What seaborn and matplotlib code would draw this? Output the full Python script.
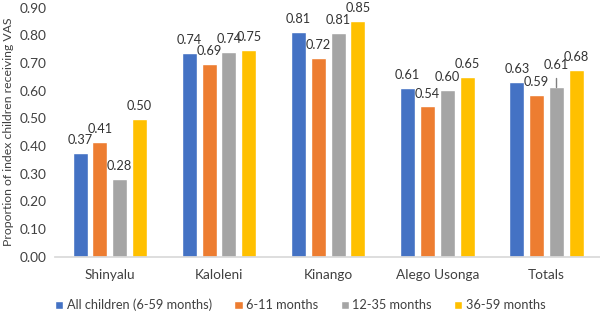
import matplotlib
matplotlib.use("Agg")
import matplotlib.pyplot as plt
import seaborn as sns
import pandas as pd

categories = ["Shinyalu", "Kaloleni", "Kinango", "Alego Usonga", "Totals"]
series = ["All children (6-59 months)", "6-11 months", "12-35 months", "36-59 months"]
all_children = [0.374, 0.736, 0.812, 0.611, 0.630]
m6_11 = [0.414, 0.696, 0.720, 0.543, 0.586]
m12_35 = [0.280, 0.740, 0.808, 0.602, 0.612]
m36_59 = [0.498, 0.748, 0.853, 0.651, 0.676]
labels_all = ["0.37", "0.74", "0.81", "0.61", "0.63"]
labels_6 = ["0.41", "0.69", "0.72", "0.54", "0.59"]
labels_12 = ["0.28", "0.74", "0.81", "0.60", "0.61"]
labels_36 = ["0.50", "0.75", "0.85", "0.65", "0.68"]
# small upper error whisker visible on the Totals 12-35 months bar
err_12_35_upper = [None, None, None, None, 0.645]
yticks = [0.0, 0.1, 0.2, 0.3, 0.4, 0.5, 0.6, 0.7, 0.8, 0.9]
colors = ["#4472C4", "#ED7D31", "#A5A5A5", "#FFC000"]

rows = []
for s, vals in zip(series, [all_children, m6_11, m12_35, m36_59]):
    for c, v in zip(categories, vals):
        rows.append({"District": c, "Group": s, "Value": v})
df = pd.DataFrame(rows)

sns.set_theme(style="white")
plt.rcParams["font.family"] = ["Lato", "DejaVu Sans"]
fs = 9.8
fsd = 9.2
fsl = 9.2

fig = plt.figure(figsize=(6.0, 3.11), dpi=100)
ax = fig.add_axes([0.092, 0.175, 0.910, 0.80])
sns.barplot(data=df, x="District", y="Value", hue="Group", order=categories,
            hue_order=series, palette=colors, width=0.725, gap=0.24,
            saturation=1, ax=ax, legend=True, errorbar=None)

all_labels = [labels_all, labels_6, labels_12, labels_36]
for si, (cont, labs) in enumerate(zip(ax.containers, all_labels)):
    for bi, (patch, lab) in enumerate(zip(cont.patches, labs)):
        xc = patch.get_x() + patch.get_width() / 2
        top = patch.get_height()
        if si == 2 and err_12_35_upper[bi] is not None:
            up = err_12_35_upper[bi]
            ax.plot([xc, xc], [top, up], color="#7F7F7F", lw=1.0, zorder=3)
            top = up
        ax.annotate(lab, (xc, top), xytext=(0, 5), textcoords="offset points",
                    ha="center", va="bottom", fontsize=fsd, color="#333333")

ax.set_ylim(0, 0.9)
ax.set_yticks(yticks)
ax.set_yticklabels([f"{t:.2f}" for t in yticks], fontsize=fs, color="#404040")
ax.tick_params(axis="x", labelsize=fs, colors="#404040", length=0, pad=9)
ax.tick_params(axis="y", length=0, pad=6)
ax.set_xlabel("")
ax.set_ylabel("Proportion of index children receiving VAS", fontsize=8.8,
              color="#404040", labelpad=4)
for sp in ["top", "right", "left"]:
    ax.spines[sp].set_visible(False)
ax.spines["bottom"].set_color("#D9D9D9")
ax.set_xlim(-0.5, 4.5)

handles, labels = ax.get_legend_handles_labels()
ax.legend(handles, labels, loc="center", bbox_to_anchor=(0.449, -0.195), ncol=4,
          frameon=False, fontsize=fsl, handlelength=0.64, handleheight=0.64,
          handletextpad=0.28, columnspacing=1.75, labelcolor="#404040")

fig.savefig("out.png", dpi=100)
